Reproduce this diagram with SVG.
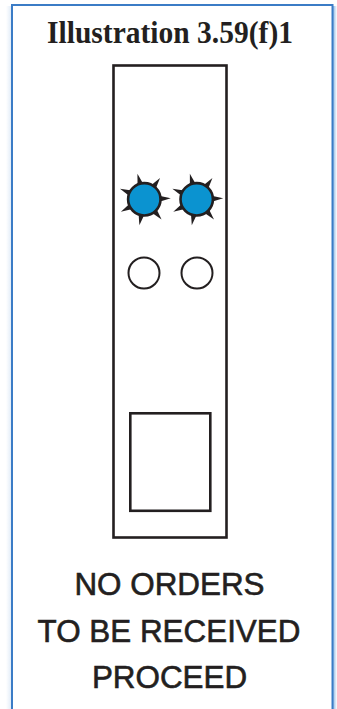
<svg xmlns="http://www.w3.org/2000/svg" xmlns:xlink="http://www.w3.org/1999/xlink" width="337" height="709" viewBox="0 0 337 709">
<style>
.ln{fill:none;stroke:#231f20;stroke-width:2.6}
.lamp{fill:#0b93d0;stroke:#231f20;stroke-width:2.6}
.off{fill:#fff;stroke:#231f20;stroke-width:2}
.sp{fill:#231f20}
.title{font-family:"Liberation Serif","Times New Roman",serif;font-weight:bold;font-size:31px;fill:#231f20;text-anchor:middle}
.cap{font-family:"Liberation Sans",Arial,sans-serif;font-size:31.4px;fill:#231f20;stroke:#231f20;stroke-width:0.6;text-anchor:middle}
</style>
<defs>
<linearGradient id="shR" x1="0" x2="1" y1="0" y2="0">
<stop offset="0" stop-color="#8fb8e4"/>
<stop offset="1" stop-color="#ffffff"/>
</linearGradient>
<linearGradient id="shL" x1="1" x2="0" y1="0" y2="0">
<stop offset="0" stop-color="#e3edf8"/>
<stop offset="1" stop-color="#ffffff"/>
</linearGradient>
<g id="burst">
<polygon class="sp" points="-3,-15 0,-26.5 3,-15" transform="rotate(-15)"/>
<polygon class="sp" points="-3,-15 0,-26.5 3,-15" transform="rotate(36.4)"/>
<polygon class="sp" points="-3,-15 0,-26.5 3,-15" transform="rotate(87.9)"/>
<polygon class="sp" points="-3,-15 0,-26.5 3,-15" transform="rotate(139.3)"/>
<polygon class="sp" points="-3,-15 0,-26.5 3,-15" transform="rotate(190.7)"/>
<polygon class="sp" points="-3,-15 0,-26.5 3,-15" transform="rotate(242.1)"/>
<polygon class="sp" points="-3,-15 0,-26.5 3,-15" transform="rotate(293.6)"/>
<circle class="lamp" r="16.2"/>
</g>
</defs>
<rect width="337" height="709" fill="#fff"/>
<g id="frame">
<rect x="333" y="6" width="4" height="710" fill="url(#shR)"/>
<rect x="6" y="6" width="5" height="710" fill="url(#shL)"/>
<rect x="12" y="5" width="320.5" height="720" fill="#fff" stroke="#3b7cc6" stroke-width="2"/>
</g>
<g id="title"><text class="title" x="170" y="43" textLength="246" lengthAdjust="spacingAndGlyphs">Illustration 3.59(f)1</text></g>
<g id="signal-panel">
<rect class="ln" x="113.5" y="65.5" width="113" height="472"/>
</g>
<g id="lamp-lit-left"><use xlink:href="#burst" x="144.3" y="199.3"/></g>
<g id="lamp-lit-right"><use xlink:href="#burst" x="196.7" y="199.3"/></g>
<g id="lamp-off-left"><circle class="off" cx="144" cy="273" r="15.5"/></g>
<g id="lamp-off-right"><circle class="off" cx="197" cy="273" r="15.5"/></g>
<g id="plate"><rect class="ln" x="130.3" y="413.3" width="80" height="97.5"/></g>
<g id="connectors"/>
<g id="caption">
<text class="cap" x="169.5" y="595">NO ORDERS</text>
<text class="cap" x="169" y="641.7">TO BE RECEIVED</text>
<text class="cap" x="169.5" y="688.3">PROCEED</text>
</g>
</svg>
